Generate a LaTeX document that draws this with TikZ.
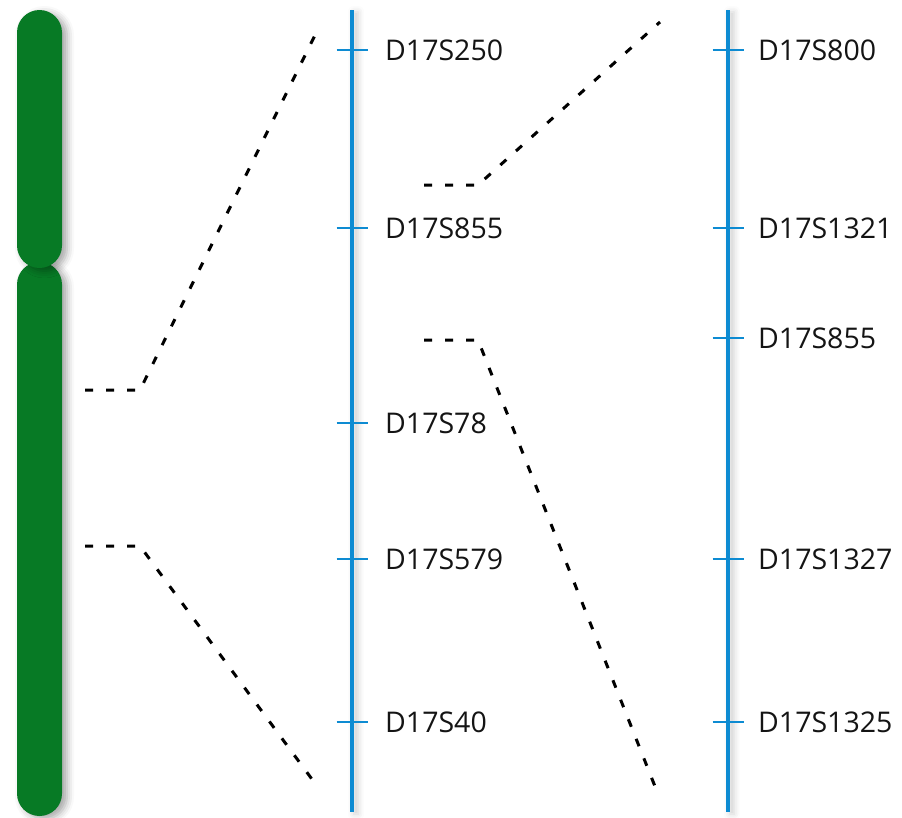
\documentclass[tikz,border=0pt]{standalone}
\usepackage{fontspec}
\setmainfont{Open Sans}
\usetikzlibrary{shadows.blur}
\definecolor{chromgreen}{HTML}{077A25}
\definecolor{mapblue}{HTML}{0D8BD2}
\tikzset{
  chromarm/.style={fill=chromgreen, rounded corners=22.5pt,
    blur shadow={shadow xshift=5pt, shadow yshift=-3pt, shadow blur radius=7pt, shadow opacity=35}},
  mapaxis/.style={fill=mapblue,
    blur shadow={shadow xshift=4pt, shadow yshift=-2pt, shadow blur radius=6pt, shadow opacity=18}},
  tickmark/.style={draw=mapblue, line width=2.2pt},
  marker/.style={anchor=base west, inner sep=0pt, font=\fontsize{28.5}{30}\selectfont, text=black!92},
  zoomline/.style={draw=black, line width=3pt, dash pattern=on 8pt off 13pt},
}
\begin{document}
\begin{tikzpicture}[x=1pt,y=-1pt]
\useasboundingbox (0,0) rectangle (902,817);

% chromosome: two arms meeting at the centromere
\fill[chromarm] (17,262) rectangle (62,816);
\fill[chromarm] (17,10) rectangle (62,268);

% zoom guides from the chromosome to the first map
\coordinate (a1) at (85,390);  \coordinate (a2) at (140,390);  \coordinate (a3) at (320,25);
\coordinate (b1) at (85,546);  \coordinate (b2) at (140,546);  \coordinate (b3) at (317,786);
\draw[zoomline] (a1) -- (a2) -- (a3);
\draw[zoomline] (b1) -- (b2) -- (b3);

% zoom guides from the first map to the second map
\coordinate (c1) at (424,185); \coordinate (c2) at (478,185); \coordinate (c3) at (660,22);
\coordinate (d1) at (424,340); \coordinate (d2) at (478,340); \coordinate (d3) at (658,794);
\draw[zoomline] (c1) -- (c2) -- (c3);
\draw[zoomline] (d1) -- (d2) -- (d3);

% first marker map
\fill[mapaxis] (349.8,10) rectangle (354.2,812);
\foreach \y/\name [count=\i] in {50/D17S250, 228/D17S855, 423/D17S78, 559/D17S579, 722/D17S40}{
  \coordinate (m1t\i) at (352,\y);
  \draw[tickmark] ([xshift=-15.5pt]m1t\i) -- ([xshift=15.5pt]m1t\i);
  \node[marker] (m1l\i) at (385,\y+10) {\name};
}

% second marker map
\fill[mapaxis] (725.8,10) rectangle (730.2,812);
\foreach \y/\name [count=\i] in {50/D17S800, 228/D17S1321, 338/D17S855, 559/D17S1327, 722/D17S1325}{
  \coordinate (m2t\i) at (728,\y);
  \draw[tickmark] ([xshift=-15.5pt]m2t\i) -- ([xshift=15.5pt]m2t\i);
  \node[marker] (m2l\i) at (758,\y+10) {\name};
}
\end{tikzpicture}
\end{document}
